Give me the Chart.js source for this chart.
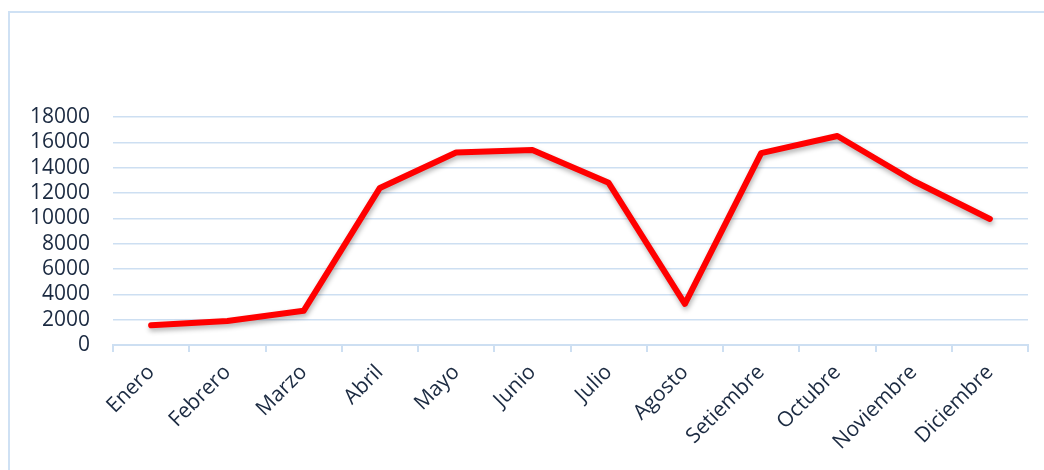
<!DOCTYPE html>
<html>
<head>
<meta charset="utf-8">
<script src="https://cdn.jsdelivr.net/npm/chart.js@4.4.1/dist/chart.umd.min.js"></script>
<style>
  html, body { margin: 0; padding: 0; background: #fff; overflow: hidden; }
  #frame {
    position: absolute; left: 8px; top: 11px; width: 1100px; height: 500px;
    border-left: 2px solid #cfe1f4; border-top: 2px solid #cfe1f4;
  }
  #wrap { position: absolute; left: 0; top: 0; width: 1044px; height: 470px; }
</style>
</head>
<body>
<div id="frame"></div>
<div id="wrap"><canvas id="linea"></canvas></div>
<script>
var meses = ['Enero', 'Febrero', 'Marzo', 'Abril', 'Mayo', 'Junio',
  'Julio', 'Agosto', 'Setiembre', 'Octubre', 'Noviembre', 'Diciembre'];
var valores = [1550, 1900, 2700, 12400, 15200, 15400, 12800, 3250, 15150, 16500, 12950, 9950];
var marcasY = [0, 2000, 4000, 6000, 8000, 10000, 12000, 14000, 16000, 18000];

var textColor = '#1b2a41';
var gridColor = '#cddff2';

// sombra suave bajo la linea
var sombra = {
  id: 'sombra',
  beforeDatasetDraw: function(chart) {
    var ctx = chart.ctx;
    ctx.save();
    ctx.shadowColor = 'rgba(0,0,0,0.3)';
    ctx.shadowBlur = 5;
    ctx.shadowOffsetX = 1;
    ctx.shadowOffsetY = 3;
  },
  afterDatasetDraw: function(chart) {
    chart.ctx.restore();
  }
};

var ctx = document.getElementById('linea').getContext('2d');
var grafico = new Chart(ctx, {
  type: 'line',
  data: {
    labels: meses,
    datasets: [{
      label: 'Serie',
      data: valores,
      borderColor: '#ff0000',
      borderWidth: 6,
      tension: 0,
      pointRadius: 0,
      borderCapStyle: 'round',
      borderJoinStyle: 'round',
      fill: false
    }]
  },
  options: {
    responsive: true,
    maintainAspectRatio: false,
    animation: false,
    layout: { padding: { top: 117, right: 16, left: 0, bottom: 0 } },
    plugins: {
      legend: { display: false },
      tooltip: { enabled: false }
    },
    scales: {
      x: {
        offset: true,
        afterFit: function(axis) { axis.height = 125; },
        grid: {
          display: true,
          offset: true,
          drawOnChartArea: false,
          drawTicks: true,
          tickLength: 7,
          color: gridColor,
          lineWidth: 2
        },
        border: { display: true, color: gridColor, width: 2 },
        ticks: {
          color: textColor,
          font: { family: 'Open Sans', size: 21 },
          minRotation: 45,
          maxRotation: 45,
          padding: 8,
          autoSkip: false
        }
      },
      y: {
        min: 0,
        max: 18000,
        afterFit: function(axis) { axis.width = 113; },
        afterBuildTicks: function(axis) {
          axis.ticks = marcasY.map(function(v) { return { value: v }; });
        },
        grid: { color: gridColor, lineWidth: 1.5, drawTicks: false },
        border: { display: false },
        ticks: {
          color: textColor,
          font: { family: 'Open Sans', size: 21 },
          padding: 23,
          autoSkip: false,
          callback: function(v) { return String(v); }
        }
      }
    }
  },
  plugins: [sombra]
});
</script>
</body>
</html>
